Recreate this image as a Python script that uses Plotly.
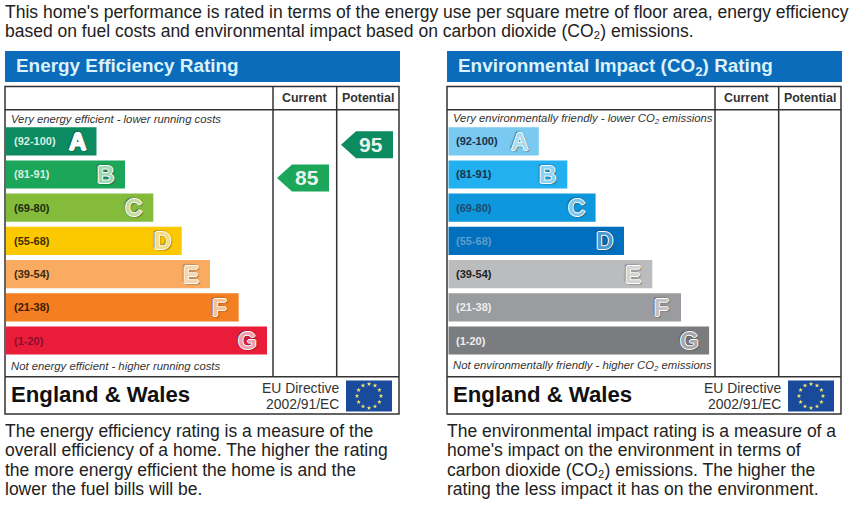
import math

import plotly.graph_objects as go

WIDTH = 850
HEIGHT = 507

BANDS = ["A", "B", "C", "D", "E", "F", "G"]
RANGE_LABELS = ["(92-100)", "(81-91)", "(69-80)", "(55-68)", "(39-54)", "(21-38)", "(1-20)"]
RANGE_TOPS = [100, 91, 80, 68, 54, 38, 20]
BAR_LENGTHS = [90.5, 119, 147.3, 175.7, 204, 232.7, 261]

ENERGY_COLORS = ["#0c8a60", "#1ba65a", "#84bb3b", "#fcc800", "#f8ab61", "#f47f22", "#e91d3a"]
ENERGY_LABEL_COLORS = ["#d8efe2", "#d8efe2", "#1c2c10", "#3c3000", "#3c2a10", "#3c2000", "#8a0f2c"]
ENERGY_LETTER_COLORS = ["#ffffff", "#9fd8b4", "#c4dca0", "#f4dc80", "#f8d4ac", "#f8c090", "#f4a0ac"]
CO2_COLORS = ["#79c9f0", "#22b0f0", "#0e97dd", "#0070be", "#bbbcbe", "#9a9c9f", "#7b7c7f"]
CO2_LABEL_COLORS = ["#16324a", "#16324a", "#1c4a70", "#5f9cc8", "#222222", "#eeeeee", "#eeeeee"]
CO2_LETTER_COLORS = ["#a8dcf4", "#88d4f8", "#80c8ec", "#4a9cd4", "#d4d4d6", "#c0c2c4", "#a8a9ab"]

ENERGY_CURRENT = 85
ENERGY_POTENTIAL = 95

INTRO = [
    "This home's performance is rated in terms of the energy use per square metre of floor area, energy efficiency",
    "based on fuel costs and environmental impact based on carbon dioxide (CO\u2082) emissions.",
]
ENERGY_NOTES = [
    "The energy efficiency rating is a measure of the",
    "overall efficiency of a home. The higher the rating",
    "the more energy efficient the home is and the",
    "lower the fuel bills will be.",
]
CO2_NOTES = [
    "The environmental impact rating is a measure of a",
    "home's impact on the environment in terms of",
    "carbon dioxide (CO\u2082) emissions. The higher the",
    "rating the less impact it has on the environment.",
]

FONT = "Liberation Sans"
LINE = "#333333"
HEADER_BLUE = "#0a6cba"
# pitch between the two panels, in pixels
PANEL_OFFSET = 442
# annotations keep this much padding around their text
TEXT_PAD = 2

# hollow letter look of the band letters
LETTER_SHADOW = "1px 0 #fff, -1px 0 #fff, 0 1px #fff, 0 -1px #fff, 1px 1px 1.5px #222, -1px -1px 1.5px #222"

shapes = []
annotations = []


def add_text(x, y, text, size, color="#222222", bold=False, italic=False, anchor="left"):
    if anchor == "left":
        x -= TEXT_PAD
    elif anchor == "right":
        x += TEXT_PAD
    annotations.append(dict(
        x=x, y=y, xref="x3", yref="y3", text=text, showarrow=False,
        xanchor=anchor, yanchor="middle",
        font=dict(family=FONT, size=size, color=color,
                  weight="bold" if bold else "normal",
                  style="italic" if italic else "normal"),
    ))


def add_rect(x0, y0, x1, y1, fill=None, line=None, width=1.5):
    shapes.append(dict(
        type="rect", xref="x3", yref="y3", x0=x0, y0=y0, x1=x1, y1=y1,
        fillcolor=fill if fill else "rgba(0,0,0,0)",
        line=dict(color=line if line else "rgba(0,0,0,0)", width=width if line else 0),
        layer="below",
    ))


def add_line(x0, y0, x1, y1):
    shapes.append(dict(
        type="line", xref="x3", yref="y3", x0=x0, y0=y0, x1=x1, y1=y1,
        line=dict(color=LINE, width=1.5), layer="below",
    ))


def band_index(rating):
    return max(i for i, top in enumerate(RANGE_TOPS) if rating <= top)


def band_center(index):
    return 124.7 + 33.2 * (index + 0.5)


def add_rating(rating, right, colors):
    index = band_index(rating)
    mid = band_center(index) + 3.5
    path = (
        f"M {right - 52} {mid} L {right - 37} {mid - 13.5} L {right} {mid - 13.5} "
        f"L {right} {mid + 13.5} L {right - 37} {mid + 13.5} Z"
    )
    shapes.append(dict(type="path", xref="x3", yref="y3", path=path,
                       fillcolor=colors[index], line=dict(width=0), layer="above"))
    add_text(right - 22, mid - 0.5, str(rating), 21, color="#e8f5ee", bold=True, anchor="center")


def draw_panel(dx, title, title_y, top_note, bottom_note, notes):
    add_rect(5 + dx, 51, 400 + dx, 82, fill=HEADER_BLUE)
    add_text(16 + dx, title_y, title, 18.9, color="#dcf2fb", bold=True)

    add_rect(5 + dx, 86.5, 399 + dx, 414, line=LINE)
    add_line(5 + dx, 109.7, 399 + dx, 109.7)
    add_line(5 + dx, 376.7, 399 + dx, 376.7)
    add_line(273 + dx, 86.5, 273 + dx, 376.7)
    add_line(336.7 + dx, 86.5, 336.7 + dx, 376.7)

    add_text(304.7 + dx, 98, "Current", 12.4, color=LINE, bold=True, anchor="center")
    add_text(367.7 + dx, 98, "Potential", 12.4, color=LINE, bold=True, anchor="center")

    add_text(11 + dx, 118.5, top_note, 11.3, color="#333333", italic=True)
    add_text(11 + dx, 365.5, bottom_note, 11.3, color="#333333", italic=True)

    add_text(11 + dx, 394.5, "England & Wales", 22.2, color="#111111", bold=True)
    add_text(339 + dx, 387.5, "EU Directive", 13.9, color=LINE, anchor="right")
    add_text(339 + dx, 403.5, "2002/91/EC", 13.9, color=LINE, anchor="right")
    add_rect(346 + dx, 380.5, 392 + dx, 411.5, fill="#1a4a9c")

    for i, line in enumerate(notes):
        add_text(5 + dx, 431 + i * 19.3, line, 17.5)


draw_panel(0, "Energy Efficiency Rating", 65.5, "Very energy efficient - lower running costs",
           "Not energy efficient - higher running costs", ENERGY_NOTES)
draw_panel(PANEL_OFFSET, "Environmental Impact (CO<sub>2</sub>) Rating", 67,
           "Very environmentally friendly - lower CO<sub>2</sub> emissions",
           "Not environmentally friendly - higher CO<sub>2</sub> emissions", CO2_NOTES)

add_text(5, 12, INTRO[0], 17.5)
add_text(5, 31, INTRO[1], 17.5)

add_rating(ENERGY_CURRENT, 329, ENERGY_COLORS)
add_rating(ENERGY_POTENTIAL, 393, ENERGY_COLORS)


def band_annotations(xref, yref, label_colors, letter_colors):
    for band, label, length, color, letter in zip(BANDS, RANGE_LABELS, BAR_LENGTHS, label_colors, letter_colors):
        annotations.append(dict(
            x=0, y=band, xref=xref, yref=yref, text=label, showarrow=False,
            xanchor="left", yanchor="middle", xshift=6,
            font=dict(family=FONT, size=11, color=color, weight="bold"),
        ))
        annotations.append(dict(
            x=length, y=band, xref=xref, yref=yref, text=band, showarrow=False,
            xanchor="center", yanchor="middle", xshift=-19.5,
            font=dict(family=FONT, size=24, color=letter, weight="bold", shadow=LETTER_SHADOW),
        ))


band_annotations("x", "y", ENERGY_LABEL_COLORS, ENERGY_LETTER_COLORS)
band_annotations("x2", "y2", CO2_LABEL_COLORS, CO2_LETTER_COLORS)

fig = go.Figure()
fig.add_trace(go.Bar(x=BAR_LENGTHS, y=BANDS, orientation="h", marker=dict(color=ENERGY_COLORS, line=dict(width=0)),
                     xaxis="x", yaxis="y", hoverinfo="skip"))
fig.add_trace(go.Bar(x=BAR_LENGTHS, y=BANDS, orientation="h", marker=dict(color=CO2_COLORS, line=dict(width=0)),
                     xaxis="x2", yaxis="y2", hoverinfo="skip"))

# EU flag stars, one ring per panel
for dx in (0, PANEL_OFFSET):
    star_x = [369 + dx + 12 * math.cos(math.radians(a)) for a in range(0, 360, 30)]
    star_y = [396 + 12 * math.sin(math.radians(a)) for a in range(0, 360, 30)]
    fig.add_trace(go.Scatter(x=star_x, y=star_y, mode="markers", xaxis="x3", yaxis="y3",
                             marker=dict(symbol="star", size=3.5, color="#f2e86a", line=dict(width=0)),
                             hoverinfo="skip"))

bar_domain_y = [1 - 357.1 / HEIGHT, 1 - 124.7 / HEIGHT]
common_y = dict(visible=False, range=[6.5, -0.5], type="category", categoryorder="array",
                categoryarray=BANDS, domain=bar_domain_y, fixedrange=True)

fig.update_layout(
    width=WIDTH,
    height=HEIGHT,
    margin=dict(l=0, r=0, t=0, b=0),
    paper_bgcolor="white",
    plot_bgcolor="rgba(0,0,0,0)",
    showlegend=False,
    bargap=0.15,
    font=dict(family=FONT),
    xaxis=dict(visible=False, range=[0, 261], domain=[6 / WIDTH, 267 / WIDTH], anchor="y", fixedrange=True),
    yaxis=dict(anchor="x", **common_y),
    xaxis2=dict(visible=False, range=[0, 261], domain=[448.3 / WIDTH, 709.3 / WIDTH], anchor="y2", fixedrange=True),
    yaxis2=dict(anchor="x2", **common_y),
    # pixel grid over the whole page for the table frame and texts
    xaxis3=dict(visible=False, range=[0, WIDTH], domain=[0, 1], anchor="y3", fixedrange=True),
    yaxis3=dict(visible=False, range=[HEIGHT, 0], domain=[0, 1], anchor="x3", fixedrange=True),
    shapes=shapes,
    annotations=annotations,
)

# the page's default body margin would push the chart off the window
fig.write_html("out.html", config=dict(displayModeBar=False), post_script="document.body.style.margin = '0';")
